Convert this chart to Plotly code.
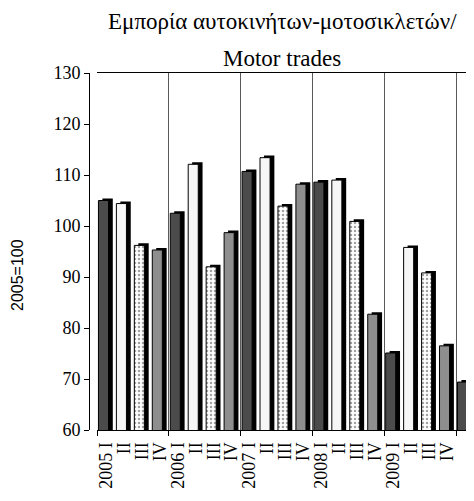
import plotly.graph_objects as go

labels = ["2005 I", "II", "III", "IV",
          "2006 I", "II", "III", "IV",
          "2007 I", "II", "III", "IV",
          "2008 I", "II", "III", "IV",
          "2009 I", "II", "III", "IV",
          "2010 I"]
values = [105.0, 104.4, 96.2, 95.3,
          102.5, 112.1, 92.0, 98.7,
          110.7, 113.4, 103.9, 108.2,
          108.6, 109.0, 100.9, 82.7,
          75.1, 95.8, 90.8, 76.5,
          69.4]
year_bounds = [-0.5, 3.5, 7.5, 11.5, 15.5, 19.5]

# style per quarter
q_colors = ["#4b4b4b", "#f6f6f6", "#ffffff", "#8e8e8e"]
q_shapes = ["", "", ".", ""]

xs = list(range(len(values)))
colors = [q_colors[i % 4] for i in xs]
shapes = [q_shapes[i % 4] for i in xs]

# page body has an 8px default margin; compensate so the chart fills 474x501
PAD = 8
W, H = 474 - PAD, 501 - PAD
ml, mr, mt, mb = 89 - PAD, 0, 73 - PAD, 71
pw = W - ml - mr
ph = H - mt - mb
serif = "Liberation Serif"

def py(ypix):
    """paper y for a pixel row in the reference page"""
    return (501 - mb - ypix) / ph

def px(xpix):
    return (xpix - 89) / pw

fig = go.Figure()
# shadow (base axis, slightly shifted range so it sits a touch higher)
fig.add_trace(go.Bar(
    x=xs, y=values, yaxis="y", width=0.58, offset=-0.2,
    marker=dict(color="#000000", line=dict(width=0)),
    hoverinfo="skip", showlegend=False,
))
# main bars
fig.add_trace(go.Bar(
    x=xs, y=values, yaxis="y2", width=0.56, offset=-0.42,
    marker=dict(color=colors, line=dict(color="#000000", width=1),
                pattern=dict(shape=shapes, fgcolor="#333333", size=4, solidity=0.3)),
    showlegend=False,
))

fig.update_layout(
    width=W, height=H,
    margin=dict(l=ml, r=mr, t=mt, b=mb),
    paper_bgcolor="white", plot_bgcolor="white",
    barmode="overlay",
    xaxis=dict(
        domain=[8 / pw, 1], range=[-0.5, 20.5], anchor="y",
        tickmode="array", tickvals=xs, ticktext=labels, tickangle=-90,
        ticks="", showgrid=False, zeroline=False,
        showline=True, linecolor="black", linewidth=1, mirror=True,
        tickfont=dict(family=serif, size=18, color="black"),
        ticklabelstandoff=4,
        minor=dict(tickmode="array", tickvals=year_bounds, showgrid=True,
                   gridcolor="#5a5a5a", gridwidth=1, ticks="outside",
                   ticklen=5, tickcolor="black"),
    ),
    yaxis=dict(
        range=[59.6, 129.6], showticklabels=False, showgrid=False,
        zeroline=False, showline=False, ticks="",
    ),
    yaxis2=dict(
        range=[60, 130], dtick=10, overlaying="y", anchor="free", position=0,
        side="left", showgrid=False, zeroline=False,
        showline=True, linecolor="black", linewidth=1,
        ticks="outside", ticklen=5, tickcolor="black",
        tickfont=dict(family=serif, size=18, color="black"),
    ),
    annotations=[
        dict(text="Εμπορία αυτοκινήτων-μοτοσικλετών/", xref="paper", yref="paper",
             x=px(282), y=py(36), xanchor="center", yanchor="bottom",
             showarrow=False, font=dict(family=serif, size=23, color="black")),
        dict(text="Motor trades", xref="paper", yref="paper",
             x=px(282), y=py(73), xanchor="center", yanchor="bottom",
             showarrow=False, font=dict(family=serif, size=23, color="black")),
        dict(text="2005=100", xref="paper", yref="paper",
             x=px(17), y=py(275), xanchor="center", yanchor="middle",
             textangle=-90, showarrow=False,
             font=dict(family="Liberation Sans", size=16, color="black")),
    ],
)

fig.write_html("out.html")
